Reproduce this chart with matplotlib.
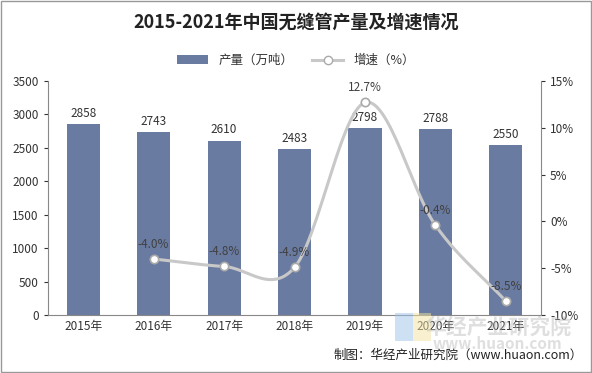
import numpy as np
import matplotlib
matplotlib.use("Agg")
import matplotlib.pyplot as plt
from matplotlib.lines import Line2D
from matplotlib.patches import Patch, Rectangle

plt.rcParams['font.family'] = ['Noto Sans CJK SC', 'DejaVu Sans']

years = ["2015年", "2016年", "2017年", "2018年", "2019年", "2020年", "2021年"]
output = [2858, 2743, 2610, 2483, 2798, 2788, 2550]
growth_idx = [1, 2, 3, 4, 5, 6]
growth = [-4.0, -4.8, -4.9, 12.7, -0.4, -8.5]

bar_color = "#6A7BA2"
line_color = "#C8C8C8"

fig = plt.figure(figsize=(5.92, 3.73), dpi=100)
ax = fig.add_axes([0.081, 0.155, 0.833, 0.628])
x = np.arange(len(years))
ax.bar(x, output, width=0.47, color=bar_color, zorder=2)
for xi, v in zip(x, output):
    ax.text(xi, v + 60, str(v), ha='center', va='bottom', fontsize=8.5, color='#333333')
ax.set_ylim(0, 3500)
ax.set_yticks(range(0, 3501, 500))
ax.set_xlim(-0.5, len(years) - 0.5)
ax.set_xticks(x)
ax.set_xticklabels(years)
ax.tick_params(axis='both', labelsize=8.5, colors='#333333', length=3)
for s in ['top', 'right']:
    ax.spines[s].set_visible(False)
for s in ['left', 'bottom']:
    ax.spines[s].set_color('#888888')
ax.tick_params(axis='x', length=0)

ax2 = ax.twinx()
ax2.set_ylim(-10, 15)
ax2.set_yticks(range(-10, 16, 5))
ax2.set_yticklabels([f"{t}%" for t in range(-10, 16, 5)])
ax2.tick_params(axis='y', labelsize=8.5, colors='#333333', length=3)
for s in ['top', 'left', 'bottom']:
    ax2.spines[s].set_visible(False)
ax2.spines['right'].set_color('#888888')

# smooth curve (Catmull-Rom) through points
px = np.array(growth_idx, dtype=float)
py = np.array(growth, dtype=float)
P = np.vstack([px, py]).T
P = np.vstack([P[0] - (P[1] - P[0]), P, P[-1] + (P[-1] - P[-2])])
cx, cy = [], []
for i in range(1, len(P) - 2):
    p0, p1, p2, p3 = P[i - 1], P[i], P[i + 1], P[i + 2]
    t = np.linspace(0, 1, 30)[:, None]
    c = 0.5 * ((2 * p1) + (-p0 + p2) * t + (2 * p0 - 5 * p1 + 4 * p2 - p3) * t ** 2 + (-p0 + 3 * p1 - 3 * p2 + p3) * t ** 3)
    cx.extend(c[:, 0]); cy.extend(c[:, 1])
ax2.plot(cx, cy, color=line_color, lw=2.2, zorder=3)
ax2.plot(px, py, 'o', ms=6, mfc='white', mec='#AAAAAA', mew=1.2, zorder=4)
for xi, v in zip(px, py):
    ax2.text(xi, v + 0.9, f"{v:.1f}%", ha='center', va='bottom', fontsize=8.5, color='#404040', zorder=5)

fig.text(0.5, 0.94, "2015-2021年中国无缝管产量及增速情况", ha='center', va='center',
         fontsize=13, fontweight='bold', color='#222222')

handles = [Patch(facecolor=bar_color, edgecolor='none'),
           Line2D([0], [0], color=line_color, lw=2.2, marker='o', ms=6, mfc='white', mec='#AAAAAA')]
fig.legend(handles, ["产量（万吨）", "增速（%）"], loc='center', bbox_to_anchor=(0.5, 0.838),
           ncol=2, frameon=False, fontsize=9, handlelength=2.5, columnspacing=1.5,
           labelcolor='#333333')

fig.text(0.985, 0.048, "制图：华经产业研究院（www.huaon.com）", ha='right', va='center',
         fontsize=9, color='#222222')

# faint watermark
fig.add_artist(Rectangle((0.668, 0.085), 0.03, 0.075, transform=fig.transFigure,
                         facecolor='#9EC3EA', edgecolor='none', alpha=0.5))
fig.add_artist(Rectangle((0.698, 0.085), 0.03, 0.075, transform=fig.transFigure,
                         facecolor='#F3E3A0', edgecolor='none', alpha=0.5))
fig.text(0.842, 0.122, "华经产业研究院", ha='center', va='center', fontsize=15,
         color='#B8B8B8', alpha=0.45, fontweight='bold')
fig.text(0.84, 0.077, "www.huaon.com", ha='center', va='center', fontsize=11,
         color='#B8B8B8', alpha=0.45, fontweight='bold')

fig.add_artist(Rectangle((0.002, 0.003), 0.996, 0.994, transform=fig.transFigure,
                         fill=False, edgecolor='#999999', lw=1))

fig.savefig("out.png", dpi=100)
